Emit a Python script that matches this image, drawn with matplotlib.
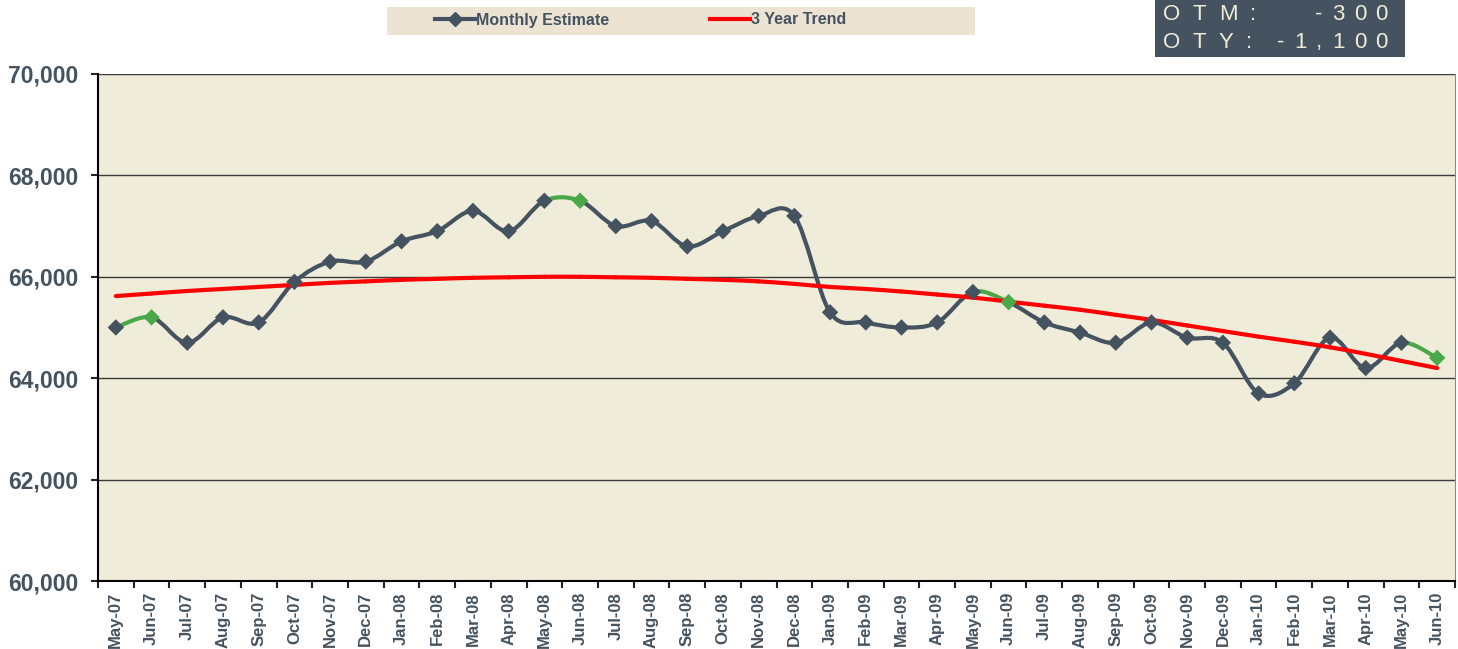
import matplotlib
matplotlib.use('Agg')
import matplotlib.pyplot as plt
from matplotlib.path import Path
from matplotlib.patches import PathPatch, Rectangle
from matplotlib.lines import Line2D

months = ['May-07', 'Jun-07', 'Jul-07', 'Aug-07', 'Sep-07', 'Oct-07', 'Nov-07', 'Dec-07',
          'Jan-08', 'Feb-08', 'Mar-08', 'Apr-08', 'May-08', 'Jun-08', 'Jul-08', 'Aug-08',
          'Sep-08', 'Oct-08', 'Nov-08', 'Dec-08', 'Jan-09', 'Feb-09', 'Mar-09', 'Apr-09',
          'May-09', 'Jun-09', 'Jul-09', 'Aug-09', 'Sep-09', 'Oct-09', 'Nov-09', 'Dec-09',
          'Jan-10', 'Feb-10', 'Mar-10', 'Apr-10', 'May-10', 'Jun-10']
monthly = [65000, 65200, 64700, 65200, 65100, 65900, 66300, 66300,
           66700, 66900, 67300, 66900, 67500, 67500, 67000, 67100,
           66600, 66900, 67200, 67200, 65300, 65100, 65000, 65100,
           65700, 65500, 65100, 64900, 64700, 65100, 64800, 64700,
           63700, 63900, 64800, 64200, 64700, 64400]
trend = [65620, 65670, 65720, 65760, 65800, 65840, 65880, 65910,
         65940, 65960, 65980, 65990, 66000, 66000, 65990, 65980,
         65960, 65940, 65910, 65860, 65800, 65760, 65710, 65650,
         65590, 65510, 65430, 65350, 65250, 65150, 65040, 64930,
         64820, 64720, 64610, 64480, 64340, 64200]
otm_label, otm_value = 'OTM:', '-300'
oty_label, oty_value = 'OTY:', '-1,100'

GREY = '#44535f'
GREEN = '#4aa84a'
RED = '#ff0000'
BG = '#efedd9'

plt.rcParams['font.family'] = ['Liberation Sans', 'DejaVu Sans']


def smooth_segment(xs, ys, i):
    # Excel style smoothed segment between point i and i+1 (bezier)
    n = len(xs)
    p0 = max(i - 1, 0)
    p3 = min(i + 2, n - 1)
    c1 = (xs[i] + (xs[i + 1] - xs[p0]) / 6.0, ys[i] + (ys[i + 1] - ys[p0]) / 6.0)
    c2 = (xs[i + 1] - (xs[p3] - xs[i]) / 6.0, ys[i + 1] - (ys[p3] - ys[i]) / 6.0)
    return [(xs[i], ys[i]), c1, c2, (xs[i + 1], ys[i + 1])]


def tracked_text(fig, x_px, y_px, s, track_px, align='left', **kw):
    # draw text char by char with extra letter spacing (pixel coords)
    r = fig.canvas.get_renderer()
    widths = []
    for ch in s:
        t = fig.text(0, 0, ch, **kw)
        widths.append(t.get_window_extent(renderer=r).width)
        t.remove()
    total = sum(widths) + track_px * (len(s) - 1)
    x = x_px if align == 'left' else x_px - total
    for ch, w in zip(s, widths):
        fig.text(x / 1458, 1 - y_px / 649, ch, va='center', ha='left', **kw)
        x += w + track_px


fig = plt.figure(figsize=(14.58, 6.49), dpi=100)
ax = fig.add_axes([98 / 1458, 68 / 649, 1357 / 1458, 507 / 649])
ax.set_facecolor(BG)

x = list(range(len(months)))

# monthly estimate, smoothed, with May->Jun segments in green
for i in range(len(x) - 1):
    pts = smooth_segment(x, monthly, i)
    color = GREEN if months[i].startswith('May') else GREY
    path = Path(pts, [Path.MOVETO, Path.CURVE4, Path.CURVE4, Path.CURVE4])
    ax.add_patch(PathPatch(path, facecolor='none', edgecolor=color, lw=3,
                           capstyle='round', zorder=3))

for i in range(len(x) - 1):
    pts = smooth_segment(x, trend, i)
    path = Path(pts, [Path.MOVETO, Path.CURVE4, Path.CURVE4, Path.CURVE4])
    ax.add_patch(PathPatch(path, facecolor='none', edgecolor=RED, lw=3,
                           capstyle='round', zorder=4))

mcolors = [GREEN if m.startswith('Jun') else GREY for m in months]
ax.scatter(x, monthly, marker='D', s=70, c=mcolors, zorder=5, linewidths=0)

ax.set_xlim(-0.5, len(months) - 0.5)
ax.set_ylim(60000, 70000)
ax.set_yticks(range(60000, 70001, 2000))
ax.set_yticklabels(['{:,}'.format(v) for v in range(60000, 70001, 2000)],
                   fontsize=16.5, fontweight='bold', color=GREY)
ax.set_xticks(x)
ax.set_xticklabels(months, rotation=90, fontsize=12, fontweight='bold', color=GREY)
ax.set_xticks([i - 0.5 for i in range(len(months) + 1)], minor=True)
ax.tick_params(axis='x', which='major', length=0, pad=8)
ax.tick_params(axis='x', which='minor', length=5, width=1.5, color='#222222', direction='out')
ax.tick_params(axis='y', length=5, width=1.5, color='#222222', direction='out', pad=9)
ax.grid(axis='y', color='#3a3a3a', lw=1)
ax.set_axisbelow(True)
ax.spines['top'].set_visible(False)
ax.spines['right'].set_color('#8a8a8a')
ax.spines['left'].set_linewidth(1.5)
ax.spines['bottom'].set_linewidth(1.5)

# legend on a beige strip
fig.patches.append(Rectangle((387 / 1458, 1 - 35 / 649), 588 / 1458, 28 / 649,
                             transform=fig.transFigure, facecolor='#ece3d3', edgecolor='none'))
h1 = Line2D([], [], color=GREY, lw=3, marker='D', ms=7)
h2 = Line2D([], [], color=RED, lw=3)
leg = fig.legend([h1, h2], ['Monthly Estimate', '3 Year Trend'], ncol=2,
                 loc='center left', bbox_to_anchor=(435 / 1458, 1 - 20 / 649),
                 frameon=False, handlelength=2.5, handletextpad=0.08,
                 columnspacing=6.3, borderpad=0, borderaxespad=0,
                 prop={'weight': 'bold', 'size': 11.5})
for t in leg.get_texts():
    t.set_color(GREY)

# info box
fig.patches.append(Rectangle((1155 / 1458, 1 - 57 / 649), 250 / 1458, 57 / 649,
                             transform=fig.transFigure, facecolor=GREY, edgecolor='none'))
tc = '#f0ecd8'
tracked_text(fig, 1163, 14, otm_label, 12.5, fontsize=16, color=tc)
tracked_text(fig, 1388, 14, otm_value, 9.5, align='right', fontsize=16, color=tc)
tracked_text(fig, 1163, 42, oty_label, 12.5, fontsize=16, color=tc)
tracked_text(fig, 1388, 42, oty_value, 9.5, align='right', fontsize=16, color=tc)

fig.savefig('out.png', dpi=100)
